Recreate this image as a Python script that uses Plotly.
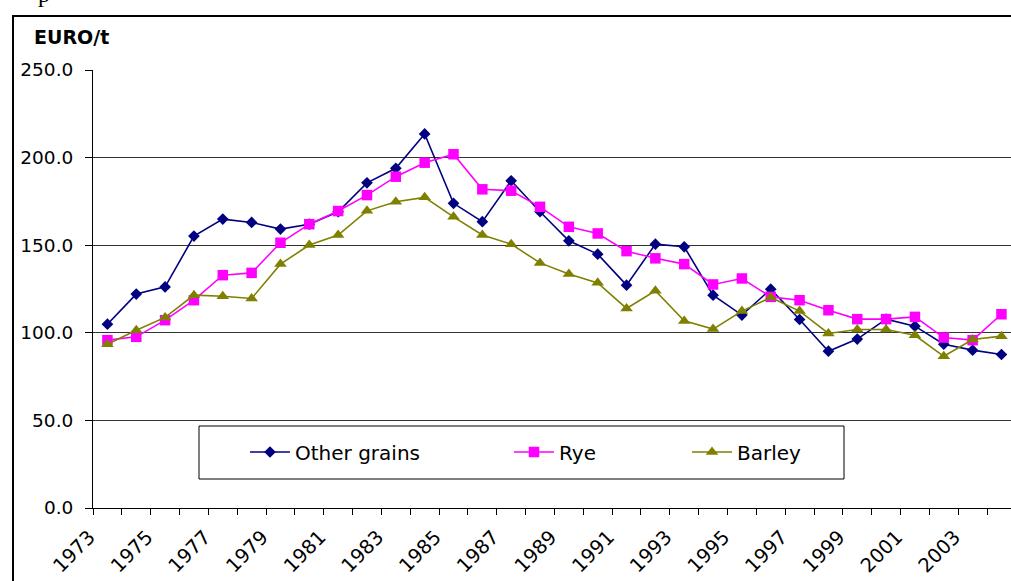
import plotly.graph_objects as go

years = [1973, 1974, 1975, 1976, 1977, 1978, 1979, 1980, 1981, 1982, 1983, 1984,
         1985, 1986, 1987, 1988, 1989, 1990, 1991, 1992, 1993, 1994, 1995, 1996,
         1997, 1998, 1999, 2000, 2001, 2002, 2003, 2004]
year_labels = ["1973", "1975", "1977", "1979", "1981", "1983", "1985", "1987",
               "1989", "1991", "1993", "1995", "1997", "1999", "2001", "2003"]

other_grains = [104.9, 122.1, 126.2, 155.2, 164.9, 163.0, 159.2, 162.0, 169.1, 185.6, 193.9, 213.5,
                173.9, 163.4, 186.8, 169.1, 152.5, 144.9, 127.2, 150.6, 149.1, 121.5, 110.1, 124.9,
                107.6, 89.5, 96.4, 107.8, 103.8, 93.5, 90.1, 87.6]
rye = [95.8, 97.7, 107.2, 118.6, 132.9, 134.2, 151.4, 162.0, 169.5, 178.6, 189.1, 197.1,
       201.9, 181.9, 181.1, 171.9, 160.5, 156.7, 146.6, 142.5, 139.2, 127.6, 131.0, 120.5,
       118.6, 112.9, 107.8, 107.8, 109.1, 97.3, 95.8, 110.6]
barley = [93.5, 101.5, 108.8, 121.5, 120.9, 119.6, 139.2, 150.1, 155.8, 169.6, 174.8, 177.3,
          166.2, 155.8, 150.6, 139.9, 133.5, 128.5, 113.9, 124.0, 106.8, 102.1, 112.4, 120.2,
          112.4, 99.6, 101.9, 101.9, 98.6, 86.6, 96.2, 98.1]

y_ticks = [0, 50, 100, 150, 200, 250]

FONT = "DejaVu Sans"
W, H = 1011, 581
ML, MT, MB = 93, 70, 73
plot_w = W - ML
plot_h = H - MT - MB
px_per_year = 28.84


def px_x(px):
    return (px - ML) / plot_w


def px_y(py):
    return (H - MB - py) / plot_h


fig = go.Figure()
fig.add_trace(go.Scatter(
    x=years, y=other_grains, name="Other grains", mode="lines+markers",
    line=dict(color="#000080", width=1.6),
    marker=dict(symbol="diamond", size=9, color="#000080"),
    legend="legend"))
fig.add_trace(go.Scatter(
    x=years, y=rye, name="Rye", mode="lines+markers",
    line=dict(color="#FF00FF", width=1.6),
    marker=dict(symbol="square", size=10.5, color="#FF00FF"),
    legend="legend2"))
fig.add_trace(go.Scatter(
    x=years, y=barley, name="Barley", mode="lines+markers",
    line=dict(color="#808000", width=1.6),
    marker=dict(symbol="triangle-up", size=11, color="#808000"),
    legend="legend3"))

x0 = years[0] - 0.5
x1 = x0 + plot_w / px_per_year

legend_common = dict(orientation="h", xanchor="left", yanchor="middle",
                     bgcolor="rgba(0,0,0,0)", borderwidth=0, itemwidth=40,
                     font=dict(family=FONT, size=20, color="black"))

fig.update_layout(
    width=W, height=H,
    margin=dict(l=ML, r=0, t=MT, b=MB, autoexpand=False),
    paper_bgcolor="white", plot_bgcolor="white",
    font=dict(family=FONT, size=18, color="black"),
    showlegend=True,
    legend=dict(x=px_x(245), y=px_y(452), **legend_common),
    legend2=dict(x=px_x(509), y=px_y(452), **legend_common),
    legend3=dict(x=px_x(687), y=px_y(452), **legend_common),
    xaxis=dict(
        range=[x0, x1], tickmode="array",
        tickvals=[int(v) for v in year_labels], ticktext=year_labels,
        ticks="", tickangle=-45, showgrid=False, zeroline=False,
        showline=True, linecolor="black", linewidth=1,
        tickfont=dict(family=FONT, size=19.5, color="black"),
        ticklabelstandoff=9, ticklabelshift=-18,
        minor=dict(tickmode="array", tickvals=[y - 0.5 for y in years],
                   ticks="outside", ticklen=6, tickwidth=1, tickcolor="black",
                   showgrid=False),
    ),
    yaxis=dict(
        range=[0, 250], tickmode="array", tickvals=y_ticks,
        tickformat=".1f", ticks="outside", ticklen=7, tickwidth=1,
        tickcolor="black", showline=True, linecolor="black", linewidth=1,
        showgrid=True, gridcolor="#333333", gridwidth=1, zeroline=False,
        tickfont=dict(family=FONT, size=18.5, color="black"),
        ticklabelstandoff=8,
    ),
    shapes=[
        dict(type="rect", xref="paper", yref="paper",
             x0=px_x(13), x1=1.2, y0=-0.4, y1=px_y(16),
             line=dict(color="black", width=2), fillcolor="rgba(0,0,0,0)",
             layer="below"),
        dict(type="rect", xref="paper", yref="paper",
             x0=px_x(199), x1=px_x(844), y0=px_y(479), y1=px_y(426),
             line=dict(color="black", width=1), fillcolor="white",
             layer="below"),
    ],
    annotations=[
        dict(text="<b>EURO/t</b>", xref="paper", yref="paper",
             x=px_x(32), y=px_y(37.5), xanchor="left", yanchor="middle",
             showarrow=False, font=dict(family=FONT, size=19, color="black")),
        dict(text="p", xref="paper", yref="paper",
             x=px_x(36), y=px_y(-6.5), xanchor="left", yanchor="middle",
             showarrow=False, font=dict(family="Liberation Serif", size=24, color="black")),
    ],
)

fig.write_html(
    "out.html",
    config={"displayModeBar": False},
    post_script="document.body.style.margin='0';document.body.style.padding='0';"
                "document.body.style.overflow='hidden';"
                "document.documentElement.style.overflow='hidden';",
)
